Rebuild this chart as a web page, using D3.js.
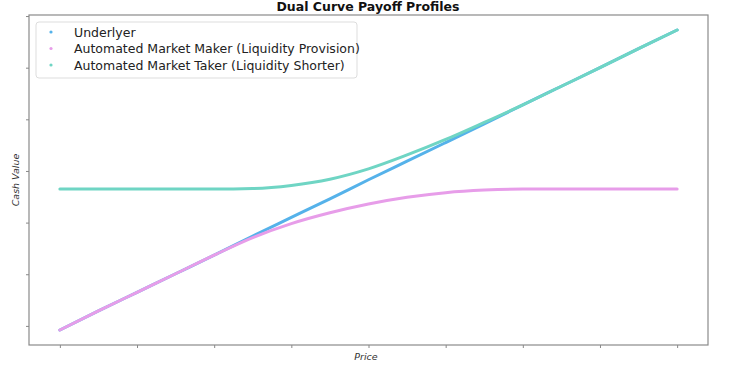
<!DOCTYPE html>
<html>
<head>
<meta charset="utf-8">
<script src="https://cdn.jsdelivr.net/npm/d3@7"></script>
<style>
  body { margin: 0; background: #fff; }
  svg { display: block; font-family: "DejaVu Sans", sans-serif; }
</style>
</head>
<body>
<script>
//price grid (x) and the three payoff series
var prices = [0, 0.5, 1, 1.5, 2, 2.5, 3, 3.5, 4, 4.5, 5, 5.5, 6, 6.5, 7, 7.5, 8];
var underlyer = [-0.08, 0.29, 0.65, 1.01, 1.37, 1.74, 2.10, 2.46, 2.83, 3.19, 3.55, 3.91, 4.28, 4.64, 5.00, 5.37, 5.73];
var maker = [-0.08, 0.29, 0.65, 1.01, 1.37, 1.71, 1.98, 2.19, 2.36, 2.49, 2.58, 2.63, 2.65, 2.65, 2.65, 2.65, 2.65];
var taker = [2.65, 2.65, 2.65, 2.65, 2.65, 2.66, 2.72, 2.84, 3.04, 3.31, 3.61, 3.94, 4.28, 4.64, 5.00, 5.37, 5.73];

var seriesNames = ["Underlyer", "Automated Market Maker (Liquidity Provision)", "Automated Market Taker (Liquidity Shorter)"];
var seriesColors = ["#55b2ea", "#e79de9", "#6fd5c4"];

var xTicks = [0, 1, 2, 3, 4, 5, 6, 7, 8];
var yTicks = [0, 1, 2, 3, 4, 5, 6];

window.onload = drawChart();

function drawChart(){

    var width = 750,
        height = 365;

    var plot = {left: 29, right: 708, top: 15, bottom: 345};

    var svg = d3.select("body")
        .append("svg")
        .attr("width", width)
        .attr("height", height);

    //faint screenshot shadow under the axis
    var grad = svg.append("defs").append("radialGradient")
        .attr("id", "shade")
        .attr("cx", "50%").attr("cy", "100%").attr("r", "50%");
    grad.append("stop").attr("offset", "0%").attr("stop-color", "#e2e2e2");
    grad.append("stop").attr("offset", "100%").attr("stop-color", "#ffffff").attr("stop-opacity", 0);
    svg.append("ellipse")
        .attr("cx", 375).attr("cy", 368)
        .attr("rx", 300).attr("ry", 16)
        .attr("fill", "url(#shade)");

    var x = d3.scaleLinear()
        .domain([-0.4, 8.4])
        .range([plot.left, plot.right]);

    var y = d3.scaleLinear()
        .domain([-0.37, 6.02])
        .range([plot.bottom, plot.top]);

    //axes with ticks but no labels
    var xAxis = svg.append("g")
        .attr("transform", "translate(0," + plot.bottom + ")")
        .call(d3.axisBottom(x).tickValues(xTicks).tickFormat("").tickSize(3).tickSizeOuter(0));

    var yAxis = svg.append("g")
        .attr("transform", "translate(" + plot.left + ",0)")
        .call(d3.axisLeft(y).tickValues(yTicks).tickFormat("").tickSize(3).tickSizeOuter(0));

    svg.selectAll(".domain").remove();
    svg.selectAll(".tick line").attr("stroke", "#888");

    //frame
    svg.append("rect")
        .attr("x", plot.left)
        .attr("y", plot.top)
        .attr("width", plot.right - plot.left)
        .attr("height", plot.bottom - plot.top)
        .attr("fill", "none")
        .attr("stroke", "#8a8a8a")
        .attr("stroke-width", 1.2);

    var line = d3.line()
        .x(function(d){ return x(d[0]); })
        .y(function(d){ return y(d[1]); })
        .curve(d3.curveMonotoneX);

    var allSeries = [underlyer, maker, taker];

    svg.selectAll(".payoff")
        .data(allSeries)
        .enter()
        .append("path")
        .attr("class", "payoff")
        .attr("fill", "none")
        .attr("stroke", function(d, i){ return seriesColors[i]; })
        .attr("stroke-width", 3)
        .attr("stroke-linecap", "round")
        .attr("d", function(vals){
            return line(prices.map(function(p, j){ return [p, vals[j]]; }));
        });

    //title
    svg.append("text")
        .attr("x", 368)
        .attr("y", 11)
        .attr("text-anchor", "middle")
        .attr("font-weight", "bold")
        .attr("font-size", 12.5)
        .attr("fill", "#111")
        .text("Dual Curve Payoff Profiles");

    //axis labels
    svg.append("text")
        .attr("x", 366)
        .attr("y", 360)
        .attr("text-anchor", "middle")
        .attr("font-style", "italic")
        .attr("font-size", 9.5)
        .attr("fill", "#333")
        .text("Price");

    svg.append("text")
        .attr("transform", "translate(19,180) rotate(-90)")
        .attr("text-anchor", "middle")
        .attr("font-style", "italic")
        .attr("font-size", 9.5)
        .attr("fill", "#333")
        .text("Cash Value");

    //legend
    var legend = svg.append("g");

    legend.append("rect")
        .attr("x", 36)
        .attr("y", 22)
        .attr("width", 321)
        .attr("height", 56)
        .attr("rx", 3)
        .attr("fill", "#fff")
        .attr("fill-opacity", 0.85)
        .attr("stroke", "#dddddd");

    var items = legend.selectAll(".item")
        .data(seriesNames)
        .enter()
        .append("g")
        .attr("class", "item")
        .attr("transform", function(d, i){ return "translate(0," + (32 + i * 16.5) + ")"; });

    items.append("circle")
        .attr("cx", 51)
        .attr("cy", 0)
        .attr("r", 1.6)
        .attr("fill", function(d, i){ return seriesColors[i]; });

    items.append("text")
        .attr("x", 74)
        .attr("y", 4.5)
        .attr("font-size", 12.5)
        .attr("fill", "#222")
        .text(function(d){ return d; });
};
</script>
</body>
</html>
